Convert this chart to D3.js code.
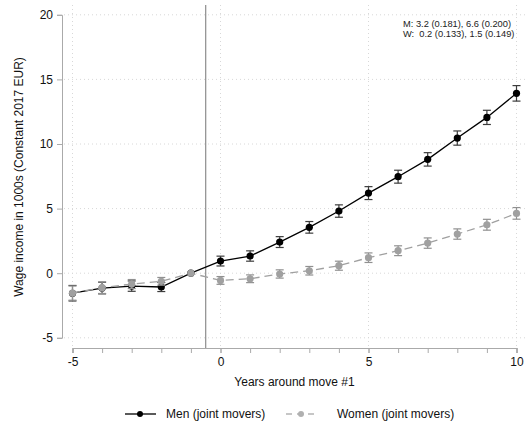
<!DOCTYPE html>
<html>
<head>
<meta charset="utf-8">
<script src="https://cdn.jsdelivr.net/npm/d3@7"></script>
<style>
  html, body { margin: 0; padding: 0; background: #fff; }
  svg { display: block; font-family: Arial, "Liberation Sans", sans-serif; }
</style>
</head>
<body>
<svg id="chart" width="527" height="428"></svg>
<script>
// Event-time estimates of wage income (1000s, constant 2017 EUR) around the first move
const years = [-5, -4, -3, -2, -1, 0, 1, 2, 3, 4, 5, 6, 7, 8, 9, 10];
const menValues = [-1.55, -1.15, -1.0, -1.07, 0, 0.94, 1.33, 2.41, 3.55, 4.81, 6.2, 7.47, 8.81, 10.46, 12.06, 13.92];
const menCI = [0.6, 0.45, 0.4, 0.35, 0, 0.38, 0.4, 0.42, 0.45, 0.48, 0.5, 0.5, 0.52, 0.55, 0.55, 0.6];
const womenValues = [-1.54, -1.12, -0.84, -0.63, 0, -0.56, -0.43, -0.06, 0.19, 0.58, 1.2, 1.74, 2.33, 3.03, 3.75, 4.63];
const womenCI = [0.55, 0.45, 0.35, 0.3, 0, 0.3, 0.3, 0.32, 0.33, 0.35, 0.37, 0.38, 0.4, 0.4, 0.42, 0.45];
const xTicks = [-5, 0, 5, 10];
const yTicks = [-5, 0, 5, 10, 15, 20];
const annotation = ["M: 3.2 (0.181), 6.6 (0.200)", "W:  0.2 (0.133), 1.5 (0.149)"];
const seriesNames = ["Men (joint movers)", "Women (joint movers)"];

const svg = d3.select("#chart");
const x = d3.scaleLinear().domain([-5, 10]).range([72.5, 516.5]);
const y = d3.scaleLinear().domain([-5, 20]).range([337.8, 14.8]);
const plotTop = 5, plotBottom = 348;
const fmt = d => String(d);

// gridlines
const grid = svg.append("g").attr("stroke", "#d8d8d8").attr("stroke-width", 1).attr("stroke-dasharray", "1,3");
grid.selectAll("line.h").data(yTicks).join("line")
  .attr("x1", 64).attr("x2", 525)
  .attr("y1", d => y(d)).attr("y2", d => y(d));
grid.selectAll("line.v").data(xTicks).join("line")
  .attr("x1", d => x(d)).attr("x2", d => x(d))
  .attr("y1", plotTop).attr("y2", plotBottom - 1);

// y axis
const yAxis = svg.append("g").attr("transform", "translate(62,0)")
  .call(d3.axisLeft(y).tickValues(yTicks).tickSize(5).tickPadding(4).tickFormat(fmt));
yAxis.selectAll("text").attr("font-size", 12).attr("fill", "#111")
  .attr("font-family", "Arial, 'Liberation Sans', sans-serif");

// x axis
const xAxis = svg.append("g").attr("transform", `translate(0,${plotBottom})`)
  .call(d3.axisBottom(x).tickValues(xTicks).tickSize(5).tickPadding(4).tickFormat(fmt));
xAxis.selectAll("text").attr("font-size", 12).attr("fill", "#111")
  .attr("font-family", "Arial, 'Liberation Sans', sans-serif");
svg.append("g").attr("transform", `translate(0,${plotBottom})`)
  .call(d3.axisBottom(x).tickValues(years).tickSize(5).tickFormat(""));
svg.selectAll(".domain").attr("stroke", "#aaa");
svg.selectAll(".tick line").attr("stroke", "#aaa");

// reference line just before the move
svg.append("line")
  .attr("x1", x(-0.5)).attr("x2", x(-0.5))
  .attr("y1", plotTop).attr("y2", plotBottom)
  .attr("stroke", "#8c8c8c").attr("stroke-width", 1.2);

function drawSeries(vals, ci, lineColor, barColor, dash) {
  const data = years.map((yr, i) => ({ yr, v: vals[i], ci: ci[i] }));
  const g = svg.append("g");
  g.append("path").datum(data)
    .attr("fill", "none").attr("stroke", lineColor).attr("stroke-width", 1.3)
    .attr("stroke-dasharray", dash)
    .attr("d", d3.line().x(d => x(d.yr)).y(d => y(d.v)));
  const eb = g.selectAll("g.eb").data(data.filter(d => d.ci > 0)).join("g")
    .attr("stroke", barColor).attr("stroke-width", 1.2);
  eb.append("line").attr("x1", d => x(d.yr)).attr("x2", d => x(d.yr))
    .attr("y1", d => y(d.v - d.ci)).attr("y2", d => y(d.v + d.ci));
  eb.append("line").attr("x1", d => x(d.yr) - 4).attr("x2", d => x(d.yr) + 4)
    .attr("y1", d => y(d.v + d.ci)).attr("y2", d => y(d.v + d.ci));
  eb.append("line").attr("x1", d => x(d.yr) - 4).attr("x2", d => x(d.yr) + 4)
    .attr("y1", d => y(d.v - d.ci)).attr("y2", d => y(d.v - d.ci));
  g.selectAll("circle").data(data).join("circle")
    .attr("cx", d => x(d.yr)).attr("cy", d => y(d.v)).attr("r", 3.6)
    .attr("fill", lineColor);
}
drawSeries(menValues, menCI, "#000", "#3c3c3c", null);
drawSeries(womenValues, womenCI, "#a0a0a0", "#909090", "8,5");

// titles
svg.append("text").attr("x", x(2.5)).attr("y", 386).attr("text-anchor", "middle")
  .attr("font-size", 12).attr("fill", "#111").text("Years around move #1");
svg.append("text").attr("transform", "translate(23,177) rotate(-90)")
  .attr("text-anchor", "middle").attr("font-size", 12).attr("fill", "#111")
  .text("Wage income in 1000s (Constant 2017 EUR)");

// estimate annotation
svg.append("g").selectAll("text").data(annotation).join("text")
  .attr("x", 403).attr("y", (d, i) => 27 + i * 9.5)
  .attr("font-size", 9.3).attr("fill", "#222")
  .style("white-space", "pre").text(d => d);

// legend
const legend = svg.append("g");
const legItems = [
  { name: seriesNames[0], color: "#000", mark: "#000", dash: null, x0: 125, tx: 166 },
  { name: seriesNames[1], color: "#b4b4b4", mark: "#b0b0b0", dash: "6,5", x0: 286, tx: 337 }
];
legItems.forEach(it => {
  legend.append("line").attr("x1", it.x0).attr("x2", it.x0 + 31)
    .attr("y1", 414).attr("y2", 414).attr("stroke", it.color).attr("stroke-width", 1.3)
    .attr("stroke-dasharray", it.dash);
  legend.append("circle").attr("cx", it.x0 + 15).attr("cy", 414).attr("r", 3).attr("fill", it.mark);
  legend.append("text").attr("x", it.tx).attr("y", 418).attr("font-size", 12).attr("fill", "#111").text(it.name);
});
</script>
</body>
</html>
